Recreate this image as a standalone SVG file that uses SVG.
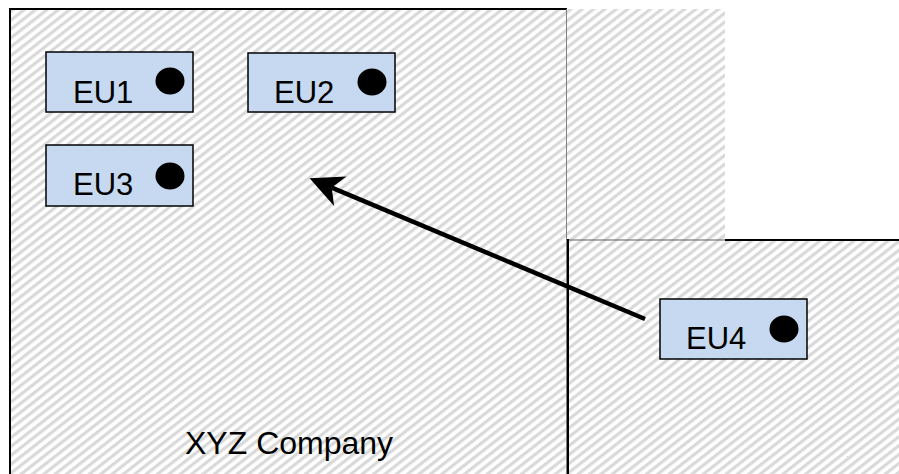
<svg xmlns="http://www.w3.org/2000/svg" width="899" height="474" viewBox="0 0 899 474">
  <defs>
    <pattern id="hatch" patternUnits="userSpaceOnUse" width="7" height="10" patternTransform="rotate(52)">
      <rect x="0" y="0" width="7" height="10" fill="#ffffff"/>
      <rect x="0" y="0" width="3.2" height="10" fill="#d9d9d9"/>
    </pattern>
    <marker id="arrow" markerUnits="userSpaceOnUse" markerWidth="40" markerHeight="40" viewBox="-10 -15 30 30" refX="0" refY="0" orient="auto">
      <path d="M18,0 L-7,-12 L0,0 L-7,12 Z" fill="#000000"/>
    </marker>
    <style>
      .box { fill: #c6d9f1; stroke: #000000; stroke-width: 1.5; }
      .dot { fill: #000000; }
      .lbl { font-family: "Liberation Sans", Arial, sans-serif; font-size: 31px; fill: #000000; }
      .title { font-family: "Liberation Sans", Arial, sans-serif; font-size: 32px; fill: #000000; }
    </style>
  </defs>

  <rect x="0" y="0" width="899" height="474" fill="#ffffff"/>

  <g id="company-area">
    <rect x="10" y="9" width="557" height="470" fill="url(#hatch)"/>
    <rect x="567" y="9" width="158" height="231" fill="url(#hatch)"/>
    <line x1="9" y1="9" x2="567" y2="9" stroke="#000000" stroke-width="2"/>
    <line x1="10" y1="8" x2="10" y2="474" stroke="#000000" stroke-width="2"/>
    <line x1="566.5" y1="9" x2="566.5" y2="474" stroke="#808080" stroke-width="1"/>
    <text class="title" x="185" y="454">XYZ Company</text>
  </g>

  <g id="external-area">
    <rect x="568" y="240" width="331" height="234" fill="url(#hatch)"/>
    <line x1="568" y1="240" x2="725" y2="240" stroke="#606060" stroke-width="1.2"/>
    <line x1="725" y1="240" x2="899" y2="240" stroke="#000000" stroke-width="2"/>
    <line x1="568" y1="239" x2="568" y2="474" stroke="#000000" stroke-width="2"/>
  </g>

  <g id="connectors">
    <line x1="645" y1="319" x2="331.7" y2="187.6" stroke="#000000" stroke-width="4.5" marker-end="url(#arrow)"/>
  </g>

  <g id="EU1">
    <rect class="box" x="46" y="52" width="147" height="60"/>
    <text class="lbl" x="73" y="103">EU1</text>
    <ellipse class="dot" cx="170" cy="81" rx="14.5" ry="13.5"/>
  </g>
  <g id="EU2">
    <rect class="box" x="248" y="53" width="147" height="59"/>
    <text class="lbl" x="274" y="103">EU2</text>
    <ellipse class="dot" cx="372" cy="82" rx="14.5" ry="13.5"/>
  </g>
  <g id="EU3">
    <rect class="box" x="46" y="145" width="147" height="61"/>
    <text class="lbl" x="73" y="195">EU3</text>
    <ellipse class="dot" cx="170" cy="176" rx="14.5" ry="13.5"/>
  </g>
  <g id="EU4">
    <rect class="box" x="660" y="299" width="147" height="60"/>
    <text class="lbl" x="686" y="349">EU4</text>
    <ellipse class="dot" cx="784" cy="329" rx="14.5" ry="13.5"/>
  </g>
</svg>
